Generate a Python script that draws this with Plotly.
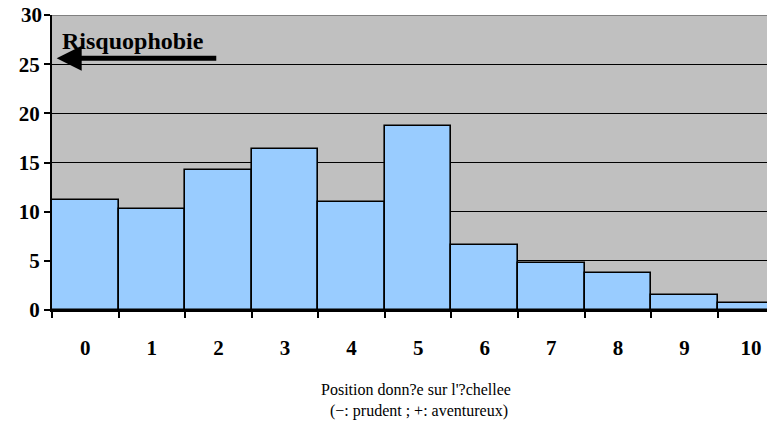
import plotly.graph_objects as go

categories = ["0", "1", "2", "3", "4", "5", "6", "7", "8", "9", "10"]
values = [11.15, 10.3, 14.2, 16.4, 10.95, 18.7, 6.65, 4.8, 3.8, 1.55, 0.7]
y_ticks = [0, 5, 10, 15, 20, 25, 30]
annotation_text = "Risquophobie"
x_title_1 = "Position donn?e sur l'?chellee"
x_title_2 = "(\u2212: prudent ; +: aventureux)"

FONT = "Liberation Serif, Times New Roman, serif"
TICKFONT = dict(family=FONT, size=21, color="black", weight="bold")

# the page body has an 8px margin; the figure is sized to fit in the window
W, H = 767, 413
L, T, B = 44, 7, 111
plot_w = W - L
plot_h = H - T - B

fig = go.Figure(
    go.Bar(
        x=categories,
        y=values,
        marker=dict(color="#99CCFF", line=dict(color="black", width=1.6)),
        hoverinfo="skip",
    )
)

fig.update_layout(
    width=W,
    height=H,
    margin=dict(l=L, r=0, t=T, b=B),
    paper_bgcolor="white",
    plot_bgcolor="#C0C0C0",
    bargap=0,
    showlegend=False,
    font=dict(family=FONT, color="black"),
)

fig.update_xaxes(
    type="category",
    range=[-0.5, 10.36],
    tickson="boundaries",
    ticks="outside",
    ticklen=6,
    tickwidth=2,
    tickcolor="black",
    showline=True,
    linecolor="black",
    linewidth=2,
    showgrid=False,
    tickfont=TICKFONT,
    ticklabelstandoff=18,
)

# the top tick label sits at the very edge of the figure, where plotly
# drops it; it is drawn as an annotation instead
fig.update_yaxes(
    range=[0, 30],
    tickvals=y_ticks,
    ticktext=[str(v) for v in y_ticks[:-1]] + [""],
    ticks="outside",
    ticklen=6,
    tickwidth=2,
    tickcolor="black",
    showline=True,
    linecolor="black",
    linewidth=2,
    showgrid=True,
    gridcolor="black",
    gridwidth=1.3,
    zeroline=False,
    tickfont=TICKFONT,
)
fig.add_annotation(
    x=0, y=y_ticks[-1], xref="paper", yref="y", xanchor="right", yanchor="middle",
    xshift=-8, text=str(y_ticks[-1]), showarrow=False, font=TICKFONT,
)

# top border of plot area
fig.add_shape(type="line", xref="paper", x0=0, x1=1, yref="y", y0=30, y1=30,
              line=dict(color="#808080", width=2), layer="above")

# arrow pointing left
fig.add_annotation(
    x=-0.43, y=25.6, ax=1.99, ay=25.6, xref="x", yref="y", axref="x", ayref="y",
    text="", showarrow=True, arrowhead=2, arrowsize=1.0, arrowwidth=5,
    arrowcolor="black",
)
fig.add_annotation(
    x=-0.38, y=27.4, xref="x", yref="y", xanchor="left", yanchor="middle",
    text=annotation_text, showarrow=False,
    font=dict(family=FONT, size=24, color="black", weight="bold"),
)

# bottom titles, positioned from screenshot pixel coordinates
for txt, px, py in [(x_title_1, 416, 389), (x_title_2, 419, 411)]:
    fx, fy = px - 8, py - 8
    fig.add_annotation(
        x=(fx - L) / plot_w, y=(H - B - fy) / plot_h,
        xref="paper", yref="paper", xanchor="center", yanchor="middle",
        text=txt, showarrow=False,
        font=dict(family=FONT, size=16, color="black"),
    )

fig.write_html("out.html")
